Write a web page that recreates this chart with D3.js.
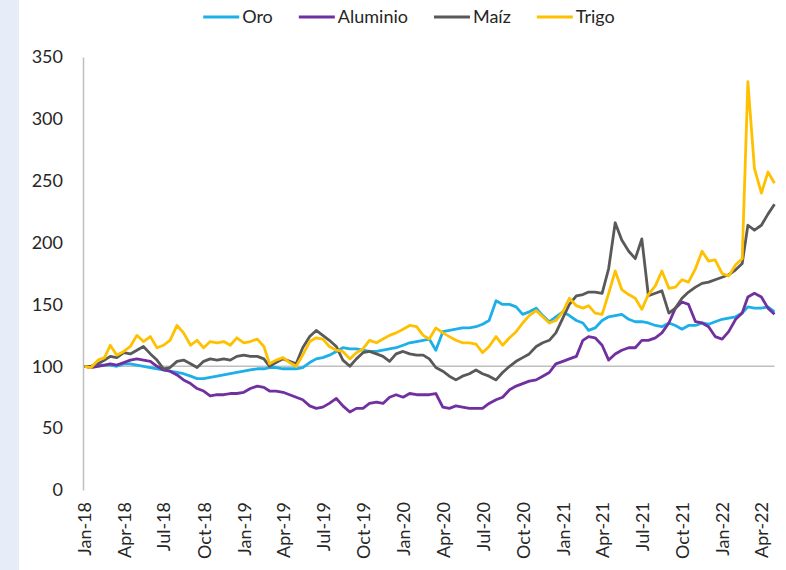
<!DOCTYPE html>
<html><head><meta charset="utf-8">
<script src="https://cdn.jsdelivr.net/npm/d3@7"></script>
<style>
body{margin:0;background:#fff;}
svg{display:block;font-family:Lato,"Open Sans",sans-serif;}
</style>
</head><body>
<svg id="c" width="786" height="570"></svg>
<script>
// ---- data (index = half-month steps from 1 Jan 2018) ----
const seriesNames = ["Oro","Aluminio","Maíz","Trigo"];
const seriesColors = ["#1DB0E8","#7030A0","#595959","#FFC000"];
const oro = [100,100,101,101,101,100,102,102,101,100,
 99,98,97,96,95,94,92,90,90,91,
 92,93,94,95,96,97,98,98,99,99,
 98,98,98,99,103,106,107,109,112,115,
 114,114,113,112,112,113,114,115,117,119,
 120,121,122,113,128,129,130,131,131,132,
 134,137,153,150,150,148,142,144,147,141,
 136,140,144,141,137,135,129,131,137,140,
 141,142,138,136,136,135,133,132,135,133,
 130,133,133,135,134,136,138,139,140,143,
 148,147,147,148,144];
const aluminio = [100,99,100,101,102,101,103,105,106,105,
 104,100,97,96,93,89,86,82,80,76,
 77,77,78,78,79,82,84,83,80,80,
 79,77,75,73,68,66,67,70,74,68,
 63,66,66,70,71,70,75,77,75,78,
 77,77,77,78,67,66,68,67,66,66,
 66,70,73,75,81,84,86,88,89,92,
 95,102,104,106,108,121,124,123,117,105,
 110,113,115,115,121,121,123,127,135,147,
 152,150,136,135,132,124,122,128,138,143,
 156,159,156,147,142];
const maiz = [100,100,102,105,108,107,111,110,113,116,
 110,105,98,99,104,105,102,99,104,106,
 105,106,105,108,109,108,108,106,100,103,
 106,104,102,115,124,129,125,121,116,105,
 100,106,111,112,110,108,104,110,112,110,
 109,109,106,99,96,92,89,92,94,97,
 94,92,89,95,100,104,107,110,116,119,
 121,127,139,150,157,158,160,160,159,179,
 216,202,193,187,203,157,159,161,143,147,
 155,160,164,167,168,170,172,174,178,183,
 214,210,214,223,231];
const trigo = [100,99,105,107,117,109,112,116,125,120,
 124,115,117,121,133,127,117,121,115,120,
 119,120,117,123,119,120,122,116,102,105,
 107,103,100,109,120,123,122,116,113,112,
 106,111,114,121,119,122,125,127,130,133,
 132,125,122,131,127,124,121,119,119,118,
 111,116,124,117,123,128,135,141,145,140,
 135,137,144,155,149,147,149,143,142,159,
 177,162,158,155,146,158,165,177,163,164,
 170,168,179,193,185,186,175,173,182,187,
 330,260,240,257,248];
const yTicks = [0,50,100,150,200,250,300,350];
const xTickLabels = ["Jan-18","Apr-18","Jul-18","Oct-18","Jan-19","Apr-19","Jul-19","Oct-19",
 "Jan-20","Apr-20","Jul-20","Oct-20","Jan-21","Apr-21","Jul-21","Oct-21","Jan-22","Apr-22"];
const baseline = 100;

const allSeries = [oro, aluminio, maiz, trigo];
const dates = oro.map((_, i) => new Date(2018, Math.floor(i / 2), i % 2 === 0 ? 1 : 16));
const tickDates = xTickLabels.map((_, k) => new Date(2018, k * 3, 1));

const svg = d3.select("#c");

// left decorative strip
svg.append("rect").attr("x",0).attr("y",0).attr("width",19).attr("height",570).attr("fill","#e6ecf8");

const x = d3.scaleTime().domain([new Date(2018,0,1), new Date(2022,4,1)]).range([84.5, 774.5]);
const y = d3.scaleLinear().domain([0,350]).range([490,57]);

// y axis
const ya = svg.append("g").attr("transform","translate(83,0)")
  .call(d3.axisLeft(y).tickValues(yTicks).tickSize(0).tickPadding(20));
ya.select(".domain").attr("stroke","#bfbfbf").attr("stroke-width",1.5);
ya.selectAll("text").attr("font-size","18px").attr("fill","#262626").attr("font-family","Lato");

// x axis labels
const xa = svg.append("g").attr("transform","translate(0,490)")
  .call(d3.axisBottom(x).tickValues(tickDates).tickSize(0).tickFormat((d,i)=>xTickLabels[i]));
xa.select(".domain").remove();
xa.selectAll("text").attr("font-size","18px").attr("fill","#262626").attr("font-family","Lato")
  .attr("text-anchor","end").attr("transform","rotate(-90)").attr("x",-12).attr("y",0).attr("dy","0.36em");

// baseline 100
svg.append("line").attr("x1",83).attr("x2",x(dates[dates.length-1])).attr("y1",y(baseline)).attr("y2",y(baseline))
  .attr("stroke","#bfbfbf").attr("stroke-width",1.5);

// lines
const line = d3.line().x((d,i)=>x(dates[i])).y(d=>y(d));
allSeries.forEach((s,k)=>{
  svg.append("path").datum(s).attr("d",line).attr("fill","none")
    .attr("stroke",seriesColors[k]).attr("stroke-width",2.8).attr("stroke-linejoin","round");
});

// legend
const lg = svg.append("g");
const items = [];
seriesNames.forEach((n,k)=>{
  const g = lg.append("g");
  g.append("line").attr("x1",0).attr("x2",36).attr("y1",17).attr("y2",17)
    .attr("stroke",seriesColors[k]).attr("stroke-width",2.8);
  const t = g.append("text").attr("x",39).attr("y",17).attr("dy","0.35em").text(n)
    .attr("font-size","18px").attr("fill","#262626").attr("font-family","Lato");
  const w = 39 + t.node().getComputedTextLength();
  items.push({g,w});
});
const gap = 26;
const total = items.reduce((a,b)=>a+b.w,0) + gap*(items.length-1);
let cx = 409 - total/2;
items.forEach(it=>{ it.g.attr("transform",`translate(${cx},0)`); cx += it.w + gap; });
</script>
</body></html>
